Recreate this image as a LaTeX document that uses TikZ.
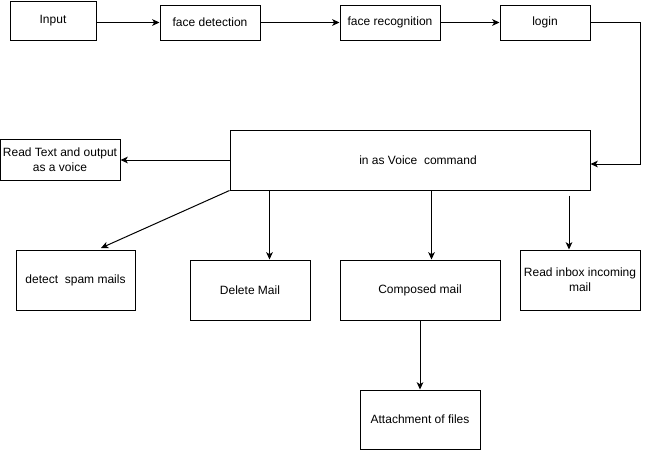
\documentclass[tikz,border=0pt]{standalone}
\usepackage{fontspec}
\setmainfont{Liberation Sans}
\usetikzlibrary{arrows.meta,calc}
\begin{document}
\begin{tikzpicture}[x=0.75pt,y=-0.75pt,
  font=\fontsize{9}{11}\selectfont,
  box/.style={draw=black,line width=0.75pt,fill=white,align=center,inner sep=1pt},
  arr/.style={draw=black,line width=0.75pt,-{Stealth[length=5.5pt,width=5pt,inset=1.5pt]}}]
\useasboundingbox (0,0) rectangle (648,451);
\node[box,minimum width=86*0.75pt,minimum height=39*0.75pt] (inp) at (53,20.5) {Input};
\node[box,minimum width=100*0.75pt,minimum height=35*0.75pt] (fd) at (210,22.5) {face detection};
\node[box,minimum width=100*0.75pt,minimum height=35*0.75pt] (fr) at (390,22.5) {face recognition};
\node[box,minimum width=90*0.75pt,minimum height=35*0.75pt] (login) at (545,22.5) {login};
\node[box,minimum width=360*0.75pt,minimum height=60*0.75pt] (main) at (410,160) {\hspace*{12pt}in as Voice\ \ command};
\node[box,minimum width=120*0.75pt,minimum height=41*0.75pt] (rt) at (60,159.5) {Read Text and output\\as a voice};
\node[box,minimum width=119*0.75pt,minimum height=60*0.75pt] (spam) at (75.5,280) {detect\ \ spam mails};
\node[box,minimum width=120*0.75pt,minimum height=60*0.75pt] (del) at (250,290) {Delete Mail};
\node[box,minimum width=160*0.75pt,minimum height=60*0.75pt] (comp) at (420,290) {Composed mail};
\node[box,minimum width=120*0.75pt,minimum height=60*0.75pt] (inbox) at (580,280) {Read inbox incoming\\mail};
\node[box,minimum width=120*0.75pt,minimum height=59*0.75pt] (att) at (420,419.5) {Attachment of files};
\coordinate (corner) at (640,22.5);
\coordinate (spamtip) at (101,248);
\draw[arr] (inp.east |- fd.west) -- (fd.west);
\draw[arr] (fd.east) -- (fr.west);
\draw[arr] (fr.east) -- (login.west);
\draw[arr] (login.east) -- (corner) |- ([yshift=-3pt]main.east);
\draw[arr] (main.west) -- (rt.east |- main.west);
\draw[arr] (main.south west) -- (spamtip);
\draw[arr] ([xshift=30pt]main.south west) -- ([xshift=30pt]main.south west |- del.north);
\draw[arr] ([xshift=151.5pt]main.south west) -- ([xshift=151.5pt]main.south west |- comp.north);
\draw[arr] ([xshift=-8.25pt,yshift=-3.75pt]inbox.north |- main.south) -- ([xshift=-8.25pt]inbox.north);
\draw[arr] (comp.south) -- (att.north);
\end{tikzpicture}
\end{document}
